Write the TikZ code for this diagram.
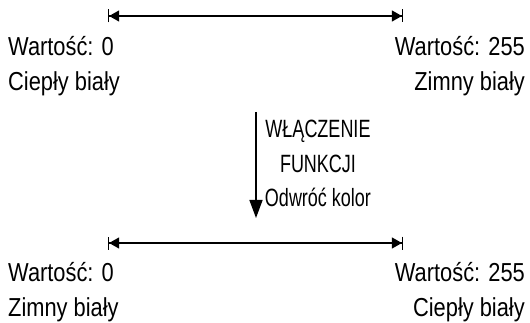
\documentclass[tikz,border=0pt]{standalone}
\usepackage{fontspec}
\setmainfont{Liberation Sans}[FakeStretch=0.84]
\newfontfamily\narrowsans{Liberation Sans}[FakeStretch=0.72]
\usepackage{tikz}
\usetikzlibrary{arrows.meta, positioning}

\begin{document}
\begin{tikzpicture}[
  x=1pt, y=-1pt,
  scalebar/.style={line width=1.1pt, {Bar[width=13pt,line width=1.1pt,sep=0pt]Triangle[length=10pt,width=11pt,sep=0pt]}-{Triangle[length=10pt,width=11pt,sep=0pt]Bar[width=13pt,line width=1.1pt,sep=0pt]}},
  arrow/.style={-{Triangle[length=18pt,width=13pt]}, line width=1.5pt},
  lbl/.style={inner sep=0pt, font=\fontsize{26}{35}\selectfont, align=left},
  rlbl/.style={lbl, align=right}
]
  \useasboundingbox (0,0) rectangle (530,323);

  % Before the function is switched on
  \coordinate (topA) at (108,16);
  \coordinate (topB) at (403,16);
  \draw[scalebar] (topA) -- (topB);
  \node (topL) [lbl, anchor=base west] at (8,91) {Wartość: 0\\Ciepły biały};
  \node (topR) [rlbl, anchor=base east] at (525,91) {Wartość: 255\\Zimny biały};

  % Switch
  \coordinate (swA) at (256,112);
  \coordinate (swB) at (256,218);
  \draw[arrow] (swA) -- (swB);
  \node (fn) [lbl, font=\narrowsans\fontsize{25}{34.5}\selectfont, align=center, anchor=base] at (318,207) {WŁĄCZENIE\\FUNKCJI\\Odwróć kolor};

  % After the function is switched on
  \coordinate (botA) at (108,243);
  \coordinate (botB) at (403,243);
  \draw[scalebar] (botA) -- (botB);
  \node (botL) [lbl, anchor=base west] at (8,316) {Wartość: 0\\Zimny biały};
  \node (botR) [rlbl, anchor=base east] at (525,316) {Wartość: 255\\Ciepły biały};

\end{tikzpicture}
\end{document}
